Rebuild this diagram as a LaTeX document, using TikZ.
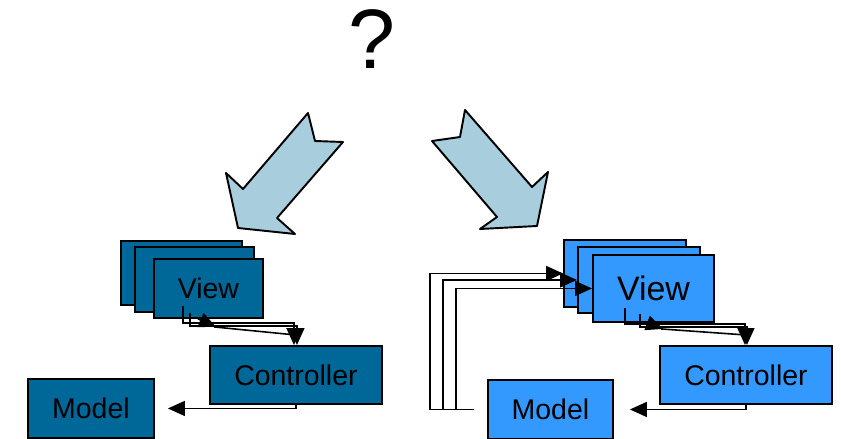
\documentclass[tikz,border=0pt]{standalone}
\usepackage{fontspec}
\setmainfont{Liberation Sans}
\usepackage{tikz}
\usetikzlibrary{positioning}
\usetikzlibrary{calc}
\usetikzlibrary{arrows.meta}

\definecolor{darkblue}{RGB}{0,104,153}
\definecolor{lightblue}{RGB}{51,153,255}
\definecolor{paleblue}{RGB}{168,206,222}

\tikzset{
  box/.style={draw=black, line width=1.1pt, inner sep=0pt},
  leftbox/.style={box, fill=darkblue},
  rightbox/.style={box, fill=lightblue},
  conn/.style={line width=0.9pt, -{Triangle[length=0.34cm, width=0.3cm]}},
  plain/.style={line width=0.9pt},
  bigarrow/.style={draw=black, line width=1.1pt, fill=paleblue, line join=round},
  lbl/.style={font=\fontsize{16.2}{18}\selectfont}
}

\begin{document}
\begin{tikzpicture}[x=0.02cm, y=-0.02cm]

\useasboundingbox (0,0) rectangle (841,439);

% Question mark
\node[font=\fontsize{48}{52}\selectfont] (q) at (372,39) {?};

% Block arrows
\draw[bigarrow] (308,113) -- (315,141) -- (343,142) -- (277,218) -- (295,234)
  -- (238,228) -- (226,173) -- (243,189) -- cycle;
\draw[bigarrow] (465,110) -- (460,137) -- (432,141) -- (497,217) -- (480,229)
  -- (537,226) -- (548,172) -- (532,187) -- cycle;

% Left side: view stack
\node[leftbox, anchor=north west, minimum width=2.42cm, minimum height=1.28cm] (lv1) at (120,240) {};
\node[leftbox, anchor=north west, minimum width=2.38cm, minimum height=1.30cm] (lv2) at (134,246) {};
\node[leftbox, anchor=north west, minimum width=2.18cm, minimum height=1.18cm, lbl] (lv3) at (153,258) {View};

% Left side: controller and model
\node[leftbox, anchor=north west, minimum width=3.44cm, minimum height=1.16cm, lbl] (lc) at (209,345) {Controller};
\node[leftbox, anchor=north west, minimum width=2.52cm, minimum height=1.18cm, lbl] (lm) at (27,378) {Model};

% Left side: connectors
\draw[conn] ($(lv1.south west)+(63,0)$) -- ++(0,17) -| ($(lc.north)+(-2,0)$);
\draw[conn] ($(lv2.south west)+(56,0)$) -- ++(0,13) -| ($(lc.north)+(1,0)$);
\draw[conn] ($(lv3.south west)+(45,0)$) -- ++(18,8);
\draw[plain] ($(lv3.south west)+(61,8)$) -- ($(lc.north)+(0,-10)$);
\draw[conn] (lc.south) |- ($(lm.east)+(13,0)$);

% Right side: view stack
\node[rightbox, anchor=north west, minimum width=2.44cm, minimum height=1.34cm] (rv1) at (563,239) {};
\node[rightbox, anchor=north west, minimum width=2.44cm, minimum height=1.32cm] (rv2) at (577,246) {};
\node[rightbox, anchor=north west, minimum width=2.42cm, minimum height=1.34cm,
      font=\fontsize{19.3}{22}\selectfont] (rv3) at (592,254) {View};

% Right side: controller and model
\node[rightbox, anchor=north west, minimum width=3.44cm, minimum height=1.16cm, lbl] (rc) at (659,345) {Controller};
\node[rightbox, anchor=north west, minimum width=2.50cm, minimum height=1.18cm, lbl] (rm) at (487,379) {Model};

% Right side: connectors
\draw[conn] ($(rv1.south west)+(62,0)$) -- ++(0,16) -| ($(rc.north)+(-1,0)$);
\draw[conn] ($(rv2.south west)+(63,0)$) -- ++(0,13) -| ($(rc.north)+(1,0)$);
\draw[conn] ($(rv3.south west)+(55,0)$) -- ++(16,6);
\draw[plain] ($(rv3.south west)+(69,6)$) -- ($(rc.north)+(0,-10)$);
\draw[conn] (rc.south) |- ($(rm.east)+(16,0)$);

% Model feeding the views
\draw[conn] ($(rm.west)+(-13,0)$) -| ($(rv1.west)+(-133,0)$) -- (rv1.west);
\draw[conn] ($(rm.west)+(-13,0)$) -| ($(rv2.west)+(-134,0)$) -- (rv2.west);
\draw[conn] ($(rm.west)+(-13,0)$) -| ($(rv3.west)+(-136,0)$) -- (rv3.west);

\end{tikzpicture}
\end{document}
